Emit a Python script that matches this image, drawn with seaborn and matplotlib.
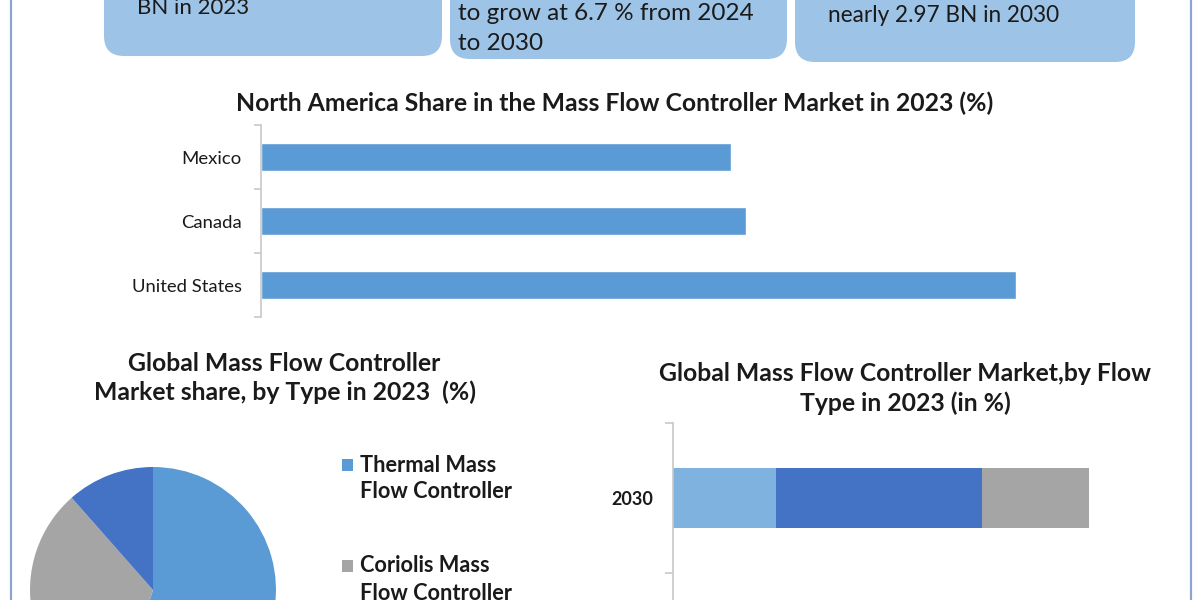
import matplotlib
matplotlib.use("Agg")
import matplotlib.pyplot as plt
from matplotlib.patches import FancyBboxPatch, Rectangle
import seaborn as sns
import pandas as pd

# ---------------- data ----------------
box_texts = [["BN in 2023"], ["to grow at 6.7 % from 2024", "to 2030"], ["nearly 2.97 BN in 2030"]]

na_title = "North America Share in the Mass Flow Controller Market in 2023 (%)"
na_countries = ["Mexico", "Canada", "United States"]
na_share = [24.9, 25.7, 40.0]

pie_title = "Global Mass Flow Controller\nMarket share, by Type in 2023  (%)"
pie_types = ["Thermal Mass\nFlow Controller", "Coriolis Mass\nFlow Controller", "Others"]
pie_share = [55.0, 33.5, 11.5]

stack_title = "Global Mass Flow Controller Market,by Flow\nType in 2023 (in %)"
stack_years = ["2030"]
stack_segments = ["Low Flow", "Medium Flow", "High Flow"]
stack_values = [24.8, 49.5, 25.7]

# ---------------- style ----------------
sns.set_theme(style="white")
plt.rcParams["font.family"] = ["Lato", "DejaVu Sans"]

BLUE = "#5B9BD5"
DBLUE = "#4472C4"
GRAY = "#A5A5A5"
LBLUE = "#80B2E0"
BOX = "#9DC3E6"
AXC = "#C8C8C8"
TXT = "#1A1A1A"

W, H = 1200, 600
fig = plt.figure(figsize=(12, 6), dpi=100)
fig.patch.set_facecolor("white")


def px_axes(x0, y0, x1, y1, **kw):
    return fig.add_axes([x0 / W, 1 - y1 / H, (x1 - x0) / W, (y1 - y0) / H], **kw)


# overlay for decorations (pixel coordinates)
ov = px_axes(0, 0, W, H, zorder=0)
ov.set_xlim(0, W)
ov.set_ylim(H, 0)
ov.axis("off")

# border lines
ov.plot([11, 11], [0, H], color="#8AA6CC", lw=1.6)
ov.plot([1191, 1191], [0, H], color="#8AA6CC", lw=1.6)

# top boxes
boxes = [(104, 442, 56), (450, 787, 59), (795, 1135, 62)]
text_pos = [(137, [8], 16), (458, [13, 43], 17.5), (828, [15], 16.3)]
for (x0, x1, yb), lines, (tx, tys, fs) in zip(boxes, box_texts, text_pos):
    p = FancyBboxPatch((x0 + 20, -120), (x1 - x0) - 40, (yb + 120) - 20,
                       boxstyle="round,pad=20,rounding_size=20",
                       fc=BOX, ec="none", mutation_aspect=1)
    ov.add_patch(p)
    for line, ty in zip(lines, tys):
        ov.text(tx, ty, line, fontsize=fs, color=TXT, ha="left", va="center")

TFS = 17.8

# ---------------- North America bar chart ----------------
fig.text(614.5 / W, 1 - 103 / H, na_title, ha="center", va="center",
         fontsize=TFS, fontweight="bold", color=TXT)

ax1 = px_axes(261, 125, 1160, 317)
df_na = pd.DataFrame({"country": na_countries, "share": na_share})
sns.barplot(data=df_na, x="share", y="country", orient="h", color=BLUE,
            saturation=1, width=0.45, ax=ax1)
ax1.set_xlim(0, 40 * 899 / 755)
ax1.set_ylim(2.5, -0.5)
for s in ["top", "right", "bottom"]:
    ax1.spines[s].set_visible(False)
ax1.spines["left"].set_color(AXC)
ax1.spines["left"].set_linewidth(1.2)
ax1.set_xticks([])
ax1.set_xlabel("")
ax1.set_ylabel("")
ax1.tick_params(axis="y", which="major", length=0, pad=14, labelsize=13.3, labelcolor=TXT)
ax1.set_yticks([-0.5, 0.5, 1.5, 2.5], minor=True)
ax1.tick_params(axis="y", which="minor", length=5, width=1.2, color=AXC, left=True)

# ---------------- Pie chart ----------------
fig.text(284.5 / W, 1 - 378 / H, pie_title, ha="center", va="center",
         fontsize=TFS, fontweight="bold", color=TXT, linespacing=1.28)

cx, cy, r = 153, 590, 123
ax2 = px_axes(cx - r, cy - r, cx + r, cy + r)
pie_colors = [BLUE, GRAY, DBLUE]
ax2.pie(pie_share, colors=pie_colors, startangle=90, counterclock=False,
        radius=1, wedgeprops=dict(linewidth=0))
ax2.set_xlim(-1, 1)
ax2.set_ylim(-1, 1)
ax2.set_aspect("equal")

# legend (first two entries visible)
leg_y = [465, 566]
for lab, col, ly in zip(pie_types[:2], pie_colors[:2], leg_y):
    ov.add_patch(Rectangle((342, ly - 6), 11, 12, fc=col, ec="none"))
    l1, l2 = lab.split("\n")
    ov.text(360, ly, l1, fontsize=15.7, fontweight="bold", color=TXT, va="center")
    ov.text(360, ly + 27, l2, fontsize=15.7, fontweight="bold", color=TXT, va="center")

# ---------------- Stacked bar chart ----------------
fig.text(905 / W, 1 - 388.5 / H, stack_title, ha="center", va="center",
         fontsize=TFS, fontweight="bold", color=TXT, linespacing=1.28)

ax3 = px_axes(673, 423, 1160, 723)
stack_colors = [LBLUE, DBLUE, GRAY]
left = 0.0
for seg, val, col in zip(stack_segments, stack_values, stack_colors):
    ax3.barh(stack_years, [val], left=left, height=0.4, color=col, label=seg, linewidth=0)
    left += val
ax3.set_xlim(0, 100 * 487 / 416)
ax3.set_ylim(1.5, -0.5)
for s in ["top", "right", "bottom"]:
    ax3.spines[s].set_visible(False)
ax3.spines["left"].set_color(AXC)
ax3.spines["left"].set_linewidth(1.2)
ax3.set_xticks([])
ax3.tick_params(axis="y", which="major", length=0, pad=14, labelsize=13)
for t in ax3.get_yticklabels():
    t.set_fontweight("bold")
    t.set_color(TXT)
ax3.set_yticks([-0.5, 0.5, 1.5], minor=True)
ax3.tick_params(axis="y", which="minor", length=6, width=1.2, color=AXC, left=True)

fig.savefig("out.png", dpi=100, facecolor="white")
